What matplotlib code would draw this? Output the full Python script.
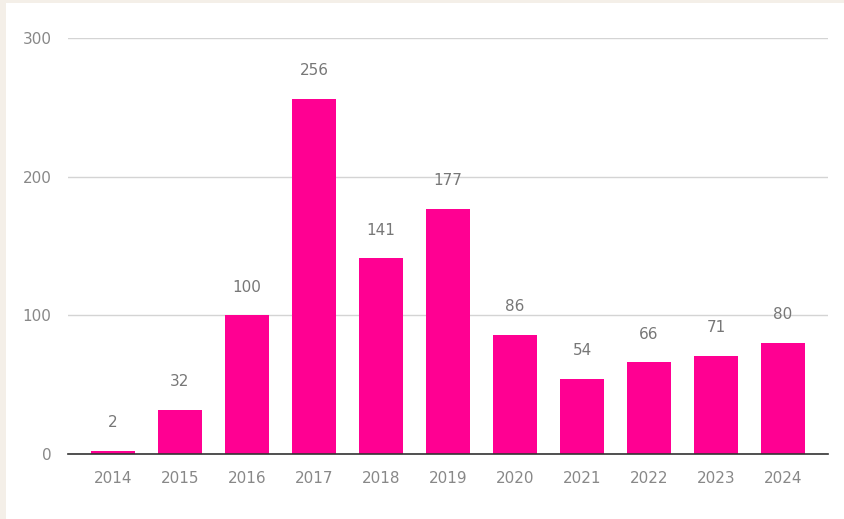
import matplotlib.pyplot as plt
from matplotlib.patches import Rectangle

years = ["2014", "2015", "2016", "2017", "2018", "2019",
         "2020", "2021", "2022", "2023", "2024"]
counts = [2, 32, 100, 256, 141, 177, 86, 54, 66, 71, 80]
y_ticks = [0, 100, 200, 300]

BAR_COLOR = "#FF0092"

fig = plt.figure(figsize=(8.44, 5.19), dpi=100)
fig.patch.set_facecolor("#F4EFE8")
# white card on the beige frame
fig.add_artist(Rectangle((6 / 844, 0), 1, 1 - 3 / 519, transform=fig.transFigure,
                         facecolor="white", edgecolor="none", zorder=0))

ax = fig.add_axes([68 / 844, 65 / 519, 760 / 844, 416 / 519])
ax.set_facecolor("none")

x = range(len(years))
bars = ax.bar(x, counts, width=0.66, color=BAR_COLOR, zorder=3)

for b, v in zip(bars, counts):
    ax.text(b.get_x() + b.get_width() / 2, v + 15, str(v), ha="center", va="bottom",
            fontsize=11, color="#777777", zorder=4)

ax.set_xlim(-0.67, len(years) - 0.33)
ax.set_ylim(0, 300)
ax.set_yticks(y_ticks)
ax.set_yticklabels([str(t) for t in y_ticks], fontsize=11, color="#888888")
ax.set_xticks(list(x))
ax.set_xticklabels(years, fontsize=11, color="#888888")
ax.tick_params(axis="both", length=0, pad=12)

ax.grid(axis="y", color="#D4D4D4", linewidth=1, zorder=0)
for side in ["top", "right", "left"]:
    ax.spines[side].set_visible(False)
ax.spines["bottom"].set_color("#333333")
ax.spines["bottom"].set_linewidth(1.2)
ax.spines["bottom"].set_zorder(5)

fig.savefig("out.png", dpi=100, facecolor=fig.get_facecolor())
